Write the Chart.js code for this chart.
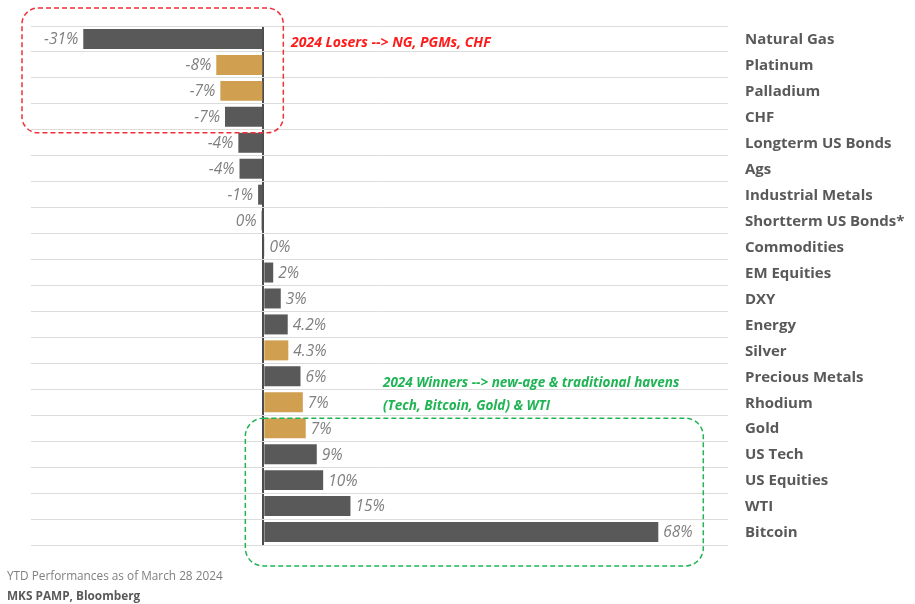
<!DOCTYPE html>
<html><head><meta charset="utf-8">
<script src="https://cdn.jsdelivr.net/npm/chart.js@4.4.1/dist/chart.umd.min.js"></script>
<style>
html,body{margin:0;padding:0;background:#fff;}
#wrap{position:relative;width:915px;height:604px;overflow:hidden;}
canvas{position:absolute;left:0;top:0;}
.note{position:absolute;font-family:'Open Sans',sans-serif;white-space:nowrap;line-height:16px;}
</style></head><body>
<div id="wrap"><canvas id="c" width="915" height="604"></canvas>
<div class="note" style="left:291px;top:34px;color:#ff1a1a;font-weight:700;font-style:italic;font-size:14px;">2024 Losers --&gt; NG, PGMs, CHF</div>
<div class="note" style="left:383px;top:374px;color:#1fb454;font-weight:700;font-style:italic;font-size:13.5px;">2024 Winners --&gt; new-age &amp; traditional havens</div>
<div class="note" style="left:383px;top:397px;color:#1fb454;font-weight:700;font-style:italic;font-size:13.5px;">(Tech, Bitcoin, Gold) &amp; WTI</div>
<div class="note" style="left:7px;top:567px;color:#7f7f7f;font-size:11.8px;">YTD Performances as of March 28 2024</div>
<div class="note" style="left:7px;top:587px;color:#595959;font-weight:700;font-size:11.8px;">MKS PAMP, Bloomberg</div>
</div>
<script>
const categories = ['Natural Gas','Platinum','Palladium','CHF','Longterm US Bonds','Ags','Industrial Metals','Shortterm US Bonds*','Commodities','EM Equities','DXY','Energy','Silver','Precious Metals','Rhodium','Gold','US Tech','US Equities','WTI','Bitcoin'];
const values = [-31.0,-8.1,-7.4,-6.6,-4.3,-4.1,-0.9,-0.3,0.2,1.7,3.0,4.2,4.3,6.4,6.8,7.3,9.2,10.3,15.0,68.0];
const valueLabels = ['-31%','-8%','-7%','-7%','-4%','-4%','-1%','0%','0%','2%','3%','4.2%','4.3%','6%','7%','7%','9%','10%','15%','68%'];
const preciousMetalsGroup = ['Platinum','Palladium','Silver','Rhodium','Gold'];
const xTicks = {min:-40, max:80, step:10};

const DARK = '#595959', GOLD = '#d09f50';
const colors = categories.map(c => preciousMetalsGroup.includes(c) ? GOLD : DARK);

const labelPlugin = {
  id:'valueLabels',
  afterDatasetsDraw(chart){
    const ctx = chart.ctx;
    const meta = chart.getDatasetMeta(0);
    ctx.save();
    ctx.font = 'italic 15.5px "Open Sans", sans-serif';
    ctx.fillStyle = '#7f7f7f';
    ctx.textBaseline = 'middle';
    meta.data.forEach((bar,i)=>{
      const v = values[i];
      if (v < 0){ ctx.textAlign='right'; ctx.fillText(valueLabels[i], Math.min(bar.x, bar.base)-5, bar.y+1); }
      else { ctx.textAlign='left'; ctx.fillText(valueLabels[i], Math.max(bar.x, bar.base)+5, bar.y+1); }
    });
    ctx.restore();
  }
};

function roundRect(ctx,x,y,w,h,r){
  ctx.beginPath();
  ctx.moveTo(x+r,y); ctx.lineTo(x+w-r,y); ctx.arcTo(x+w,y,x+w,y+r,r);
  ctx.lineTo(x+w,y+h-r); ctx.arcTo(x+w,y+h,x+w-r,y+h,r);
  ctx.lineTo(x+r,y+h); ctx.arcTo(x,y+h,x,y+h-r,r);
  ctx.lineTo(x,y+r); ctx.arcTo(x,y,x+r,y,r); ctx.closePath();
}
const boxPlugin = {
  id:'boxes',
  afterDraw(chart){
    const ctx = chart.ctx, xs = chart.scales.x, ys = chart.scales.y;
    const ca = chart.chartArea;
    const x0 = xs.getPixelForValue(0);
    ctx.save();
    ctx.setLineDash([5,3]); ctx.lineWidth = 1.5;
    ctx.strokeStyle = '#f0303a';
    let top = ys.getPixelForValue(0)-31, bot = ys.getPixelForValue(3)+16;
    let left = ca.left-9, right = x0+20;
    roundRect(ctx,left,top,right-left,bot-top,16); ctx.stroke();
    ctx.strokeStyle = '#1fb454';
    top = ys.getPixelForValue(15)-10; bot = ys.getPixelForValue(19)+34;
    left = x0-18; right = xs.getPixelForValue(68)+45;
    roundRect(ctx,left,top,right-left,bot-top,18); ctx.stroke();
    ctx.restore();
  }
};

new Chart(document.getElementById('c'), {
  type:'bar',
  data:{ labels:categories, datasets:[{ data:values, backgroundColor:colors, borderWidth:0, categoryPercentage:0.77, barPercentage:1 }]},
  options:{
    indexAxis:'y', responsive:false, animation:false,
    layout:{ padding:{ left:31, top:25, bottom:59, right:0 } },
    plugins:{ legend:{display:false}, tooltip:{enabled:false} },
    scales:{
      x:{ type:'linear', min:xTicks.min, max:xTicks.max,
          ticks:{ display:false, stepSize:xTicks.step },
          grid:{ drawTicks:false, color: c => (c.tick && c.tick.value===0) ? '#4d4d4d' : 'rgba(0,0,0,0)', lineWidth: c => (c.tick && c.tick.value===0) ? 2 : 0 },
          border:{ display:false } },
      y:{ position:'right', grid:{ color:'#dcdcdc', drawTicks:false, offset:true, lineWidth:1 },
          border:{ display:false },
          ticks:{ padding:17, color:'#595959', font:{ family:'"Open Sans", sans-serif', weight:'bold', size:15 }, labelOffset:1 },
          afterFit(s){ s.width = 187; } }
    }
  },
  plugins:[labelPlugin, boxPlugin]
});
</script>
</body></html>
